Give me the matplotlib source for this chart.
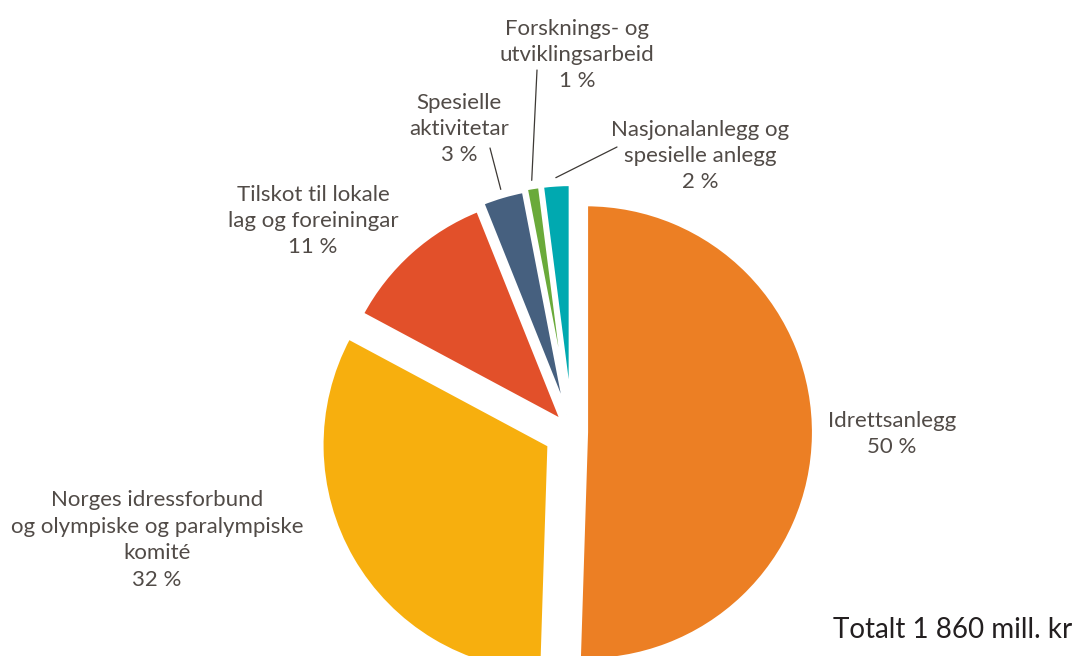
import matplotlib.pyplot as plt
import numpy as np

# andel av totalen (prosent), med klokka frå toppen
labels = ['Idrettsanlegg',
          'Norges idressforbund\nog olympiske og paralympiske\nkomité',
          'Tilskot til lokale\nlag og foreiningar',
          'Spesielle\naktivitetar',
          'Forsknings- og\nutviklingsarbeid',
          'Nasjonalanlegg og\nspesielle anlegg']
shares = [50, 32, 11, 3, 1, 2]
colors = ['#EC7F24', '#F7AF0E', '#E2502A', '#46607F', '#6AAA3A', '#00A9B0']
total_text = 'Totalt 1 860 mill. kr'

W, H = 1085, 656
R = 228.0            # radius i pikslar
CX, CY = 572, 432    # sentrum i pikslar (y nedover)

fig = plt.figure(figsize=(W / 100, H / 100), dpi=100)
ax = fig.add_axes([0, 0, 1, 1])

explode = [14, 26, 14, 18, 20, 20]
explode = [e / R for e in explode]

wedges, _ = ax.pie(shares, colors=colors, startangle=90, counterclock=False,
                   explode=explode, radius=1, center=(0, 0),
                   wedgeprops=dict(edgecolor='white', linewidth=3))

ax.set_xlim(-CX / R, (W - CX) / R)
ax.set_ylim((CY - H) / R, CY / R)
ax.set_aspect('equal')
ax.axis('off')

txt_color = '#514b47'
font = dict(family=['Lato', 'DejaVu Sans'], fontsize=16, color=txt_color,
            ha='center', va='center', linespacing=1.4)

# plassering av tekst (pikslar, y nedover)
label_pos = [(892, 434), (157, 540), (313, 221), (459, 129), (577, 55), (700, 156)]

for lab, s, (x, y) in zip(labels, shares, label_pos):
    fig.text(x / W, 1 - y / H, f'{lab}\n{s} %', **font)

# linjer frå dei små sektorane til teksten
leader_end = {3: (490, 148), 4: (537, 70), 5: (617, 147)}
for i, (x, y) in leader_end.items():
    w = wedges[i]
    mid = np.deg2rad((w.theta1 + w.theta2) / 2)
    cx, cy = w.center
    px = cx + (w.r + 0.03) * np.cos(mid)
    py = cy + (w.r + 0.03) * np.sin(mid)
    ax.annotate('', xy=(px, py), xytext=(x, H - y), textcoords='figure pixels',
                arrowprops=dict(arrowstyle='-', color='#3d3935', lw=0.9,
                                shrinkA=0, shrinkB=0))

fig.text(833 / W, 1 - 630 / H, total_text, family=['Lato', 'DejaVu Sans'],
         fontsize=20, color='#231f20', ha='left', va='center')

plt.savefig('out.png', dpi=100)
plt.close()
